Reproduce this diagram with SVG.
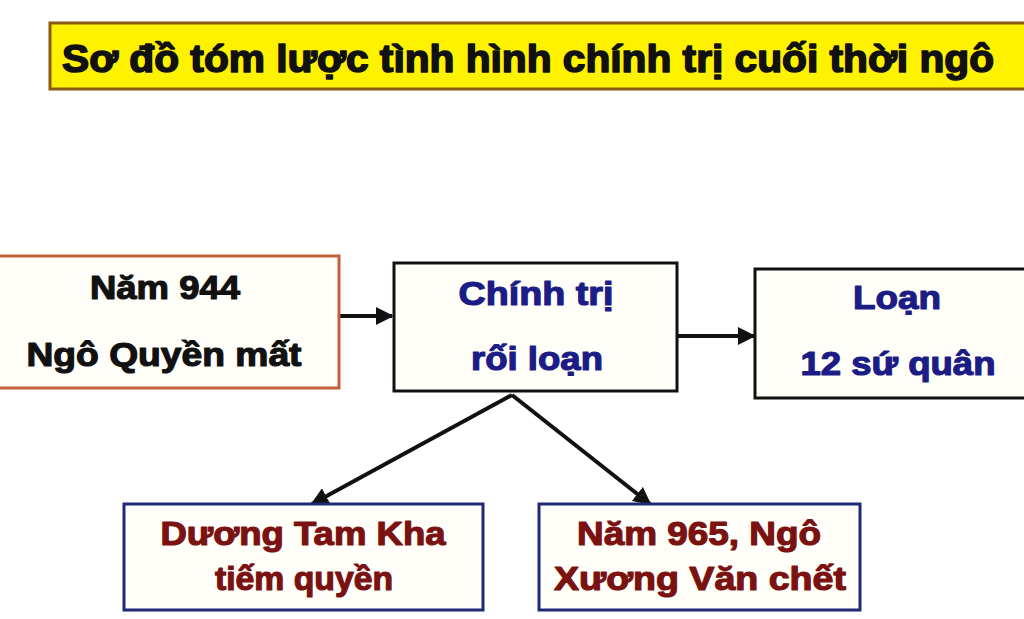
<svg xmlns="http://www.w3.org/2000/svg" width="1024" height="619" viewBox="0 0 1024 619">
<defs>
<marker id="ah" viewBox="0 0 10 10" refX="9" refY="5" markerWidth="4.5" markerHeight="4.5" orient="auto" markerUnits="strokeWidth">
<path d="M0,0 L10,5 L0,10 z" fill="#111"/>
</marker>
<style>
text{font-family:"Liberation Sans","Arial",sans-serif;font-weight:bold;text-anchor:middle;stroke-linejoin:round}
.t{font-size:38px;fill:#111;stroke:#111;stroke-width:1.6;text-anchor:start}
.k{font-size:33px;fill:#111;stroke:#111;stroke-width:1.2}
.b{font-size:33px;fill:#1c1c86;stroke:#1c1c86;stroke-width:1.2}
.r{font-size:33px;fill:#7a1212;stroke:#7a1212;stroke-width:1.2}
.box{fill:#fffef8;stroke-width:3}
.conn{stroke:#111;stroke-width:4;fill:none;marker-end:url(#ah)}
</style>
</defs>
<rect width="1024" height="619" fill="#ffffff"/>
<g id="title">
<rect x="50" y="23" width="980" height="66" fill="#fff200" stroke="#8a5a10" stroke-width="3"/>
<text class="t" x="62" y="72" textLength="932" lengthAdjust="spacingAndGlyphs">Sơ đồ tóm lược tình hình chính trị cuối thời ngô</text>
</g>
<g id="connectors">
<line class="conn" x1="340" y1="316" x2="392" y2="316"/>
<line class="conn" x1="677" y1="336" x2="754" y2="336"/>
<line class="conn" x1="512" y1="395" x2="312" y2="504"/>
<line class="conn" x1="512" y1="395" x2="650" y2="504"/>
</g>
<g id="n1">
<rect class="box" x="-5" y="256" width="344" height="132" stroke="#c2603a" stroke-width="4"/>
<text class="k" x="165" y="299" textLength="150" lengthAdjust="spacingAndGlyphs">Năm 944</text>
<text class="k" x="164" y="366" textLength="275" lengthAdjust="spacingAndGlyphs">Ngô Quyền mất</text>
</g>
<g id="n2">
<rect class="box" x="394" y="263" width="283" height="128" stroke="#111"/>
<text class="b" x="536" y="305" textLength="155" lengthAdjust="spacingAndGlyphs">Chính trị</text>
<text class="b" x="537" y="370" textLength="132" lengthAdjust="spacingAndGlyphs">rối loạn</text>
</g>
<g id="n3">
<rect class="box" x="755" y="269" width="280" height="129" stroke="#111"/>
<text class="b" x="897" y="309" textLength="88" lengthAdjust="spacingAndGlyphs">Loạn</text>
<text class="b" x="898" y="375" textLength="195" lengthAdjust="spacingAndGlyphs">12 sứ quân</text>
</g>
<g id="n4">
<rect class="box" x="124" y="504" width="359" height="106" stroke="#1e2a78"/>
<text class="r" x="303" y="545" textLength="285" lengthAdjust="spacingAndGlyphs">Dương Tam Kha</text>
<text class="r" x="304" y="590" textLength="178" lengthAdjust="spacingAndGlyphs">tiếm quyền</text>
</g>
<g id="n5">
<rect class="box" x="539" y="504" width="321" height="106" stroke="#1e2a78"/>
<text class="r" x="699" y="545" textLength="244" lengthAdjust="spacingAndGlyphs">Năm 965, Ngô</text>
<text class="r" x="700" y="590" textLength="292" lengthAdjust="spacingAndGlyphs">Xương Văn chết</text>
</g>
</svg>
